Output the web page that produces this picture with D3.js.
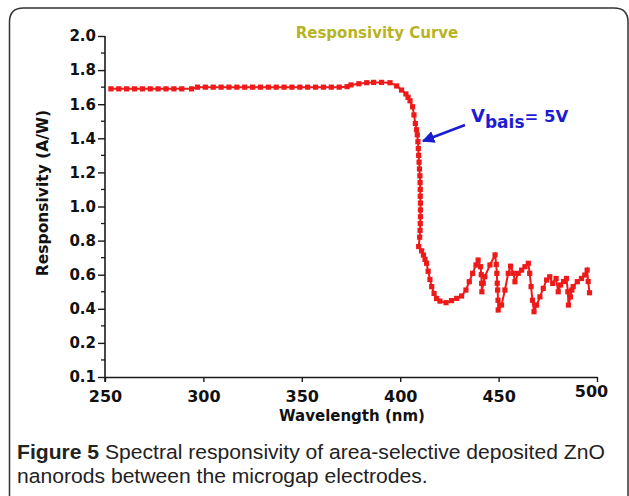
<!DOCTYPE html>
<html><head><meta charset="utf-8">
<script src="https://cdn.jsdelivr.net/npm/d3@7"></script>
<style>html,body{margin:0;padding:0;background:#fff;}svg{display:block;}</style>
</head><body>
<script>
// ---- data ----
const wavelengths = [253,257,261,265,269,273,277,281,285,289,294,
 297,301,305,309,313,317,321,325,329,333,337,341,345,349,353,357,361,365,369,373,
 375,379,383,386.5,390.5,394.8,398.2,400.7,402.9,404,405,406.3,407,407.7,408.3,408.7,
 409,409.2,409.4,409.6,409.8,410,410.1,410.2,410.2,410.3,410.3,410.3,410.2,410.1,409.9,409.4,
 410.9,411.8,412.6,413.4,414.2,415.1,416,417.2,418.5,420.2,423.3,426.1,428.7,431.2,433.4,
 435.1,436.8,438.5,439.6,440.8,441.2,441.4,441.5,442.2,443,445.6,448.2,448.8,449.1,449.3,
 449.5,449.7,449.8,451.5,453.2,454.9,456.1,457.5,458.3,460,461.7,463.4,465.1,465.8,466.5,
 467.2,468,469.3,471,472.7,474.4,476,477.5,479.2,480.3,481.5,483,484.5,485.2,485.5,486.5,
 487.2,487.9,490,492.1,493.8,495,495.5,496.2];
const responsivity = [1.69,1.69,1.69,1.69,1.69,1.69,1.69,1.69,1.69,1.69,1.69,
 1.70,1.70,1.70,1.70,1.70,1.70,1.70,1.70,1.70,1.70,1.70,1.70,1.70,1.70,1.70,1.70,1.70,1.70,1.70,1.703,
 1.713,1.72,1.726,1.728,1.728,1.726,1.707,1.683,1.66,1.64,1.62,1.585,1.537,1.487,1.45,1.42,
 1.38,1.34,1.30,1.26,1.22,1.18,1.14,1.10,1.06,1.02,0.98,0.94,0.90,0.86,0.82,0.765,
 0.74,0.715,0.69,0.667,0.62,0.572,0.53,0.49,0.46,0.445,0.436,0.448,0.461,0.475,0.51,
 0.559,0.608,0.657,0.686,0.647,0.60,0.549,0.50,0.55,0.588,0.657,0.716,0.66,0.608,0.55,
 0.51,0.45,0.393,0.422,0.51,0.608,0.65,0.608,0.559,0.608,0.627,0.647,0.667,0.608,0.53,
 0.45,0.383,0.422,0.47,0.52,0.569,0.588,0.549,0.578,0.50,0.54,0.56,0.578,0.50,0.422,0.47,
 0.51,0.53,0.559,0.578,0.598,0.627,0.56,0.494];
const xTicks = [250,300,350,400,450,500];
const xTickLabels = ["250","300","350","400","450","500"];
const yTicks = [0,0.2,0.4,0.6,0.8,1.0,1.2,1.4,1.6,1.8,2.0];
const yTickLabels = ["0.1","0.2","0.4","0.6","0.8","1.0","1.2","1.4","1.6","1.8","2.0"];
const yMinorTicks = [0.1,0.3,0.5,0.7,0.9,1.1,1.3,1.5,1.7,1.9];
const titleText = "Responsivity Curve";
const xTitle = "Wavelength (nm)";
const yTitle = "Responsivity (A/W)";
const captionBold = "Figure 5";
const captionLine1 = " Spectral responsivity of area-selective deposited ZnO";
const captionLine2 = "nanorods between the microgap electrodes.";

const W = 629, H = 496;
const svg = d3.select("body").append("svg").attr("width", W).attr("height", H);

// border
svg.append("path")
  .attr("d", "M9.5,500 L9.5,22 Q9.5,8 23.5,8 L614,8 Q628,8 628,22 L628,500")
  .attr("fill","none").attr("stroke","#333").attr("stroke-width",1.5);

const x = d3.scaleLinear().domain([250,500]).range([105,597]);
const y = d3.scaleLinear().domain([0,2]).range([377,36]);
const axisColor = "#1a1a1a";
const tickFont = "'DejaVu Sans', sans-serif";

// y axis
const yAxis = d3.axisLeft(y).tickValues(yTicks).tickSize(7).tickSizeOuter(0)
  .tickFormat((d,i)=>yTickLabels[i]);
const gy = svg.append("g").attr("transform",`translate(${x(250)},0)`).call(yAxis);
gy.select(".domain").attr("stroke",axisColor).attr("stroke-width",1.6).attr("d",`M0,${y(2)}V${y(0)+5}`);
gy.selectAll(".tick line").attr("stroke",axisColor).attr("stroke-width",1.4);
gy.selectAll(".tick text").attr("font-family",tickFont).attr("font-weight","bold")
  .attr("font-size",15).attr("fill","#111").attr("x",-9);
gy.selectAll(".minor").data(yMinorTicks).enter().append("line")
  .attr("x1",-4).attr("x2",0).attr("y1",d=>y(d)).attr("y2",d=>y(d))
  .attr("stroke",axisColor).attr("stroke-width",1.3);

// x axis
const xAxis = d3.axisBottom(x).tickValues(xTicks).tickSize(5).tickSizeOuter(0)
  .tickFormat((d,i)=>xTickLabels[i]);
const gx = svg.append("g").attr("transform",`translate(0,${y(0)})`).call(xAxis);
gx.select(".domain").attr("stroke",axisColor).attr("stroke-width",1.6);
gx.selectAll(".tick line").attr("stroke",axisColor).attr("stroke-width",1.4);
gx.selectAll(".tick text").attr("font-family",tickFont).attr("font-weight","bold")
  .attr("font-size",16).attr("fill","#111")
  .attr("y",(d)=> d===500 ? 9 : 14)
  .attr("dx",(d)=> d===500 ? -6 : 0).attr("dy","0.71em");

// axis titles
svg.append("text").attr("x",352).attr("y",421).attr("text-anchor","middle")
  .attr("font-family",tickFont).attr("font-weight","bold").attr("font-size",15)
  .attr("fill","#111").text(xTitle);
svg.append("text").attr("transform","translate(48,193) rotate(-90)").attr("text-anchor","middle")
  .attr("font-family",tickFont).attr("font-weight","bold").attr("font-size",15.5)
  .attr("fill","#111").text(yTitle);

// title
svg.append("text").attr("x",377).attr("y",38).attr("text-anchor","middle")
  .attr("font-family",tickFont).attr("font-weight","bold").attr("font-size",15)
  .attr("fill","#b8b325").text(titleText);

// data
const pts = wavelengths.map((w,i)=>({w, r: responsivity[i]}));
const red = "#ee1a1a";
svg.append("path").datum(pts)
  .attr("d", d3.line().x(d=>x(d.w)).y(d=>y(d.r)))
  .attr("fill","none").attr("stroke",red).attr("stroke-width",2);
svg.selectAll(".pt").data(pts).enter().append("rect")
  .attr("x",d=>x(d.w)-2.6).attr("y",d=>y(d.r)-2.6).attr("width",5.2).attr("height",5.2)
  .attr("fill",red);

// annotation
const blue = "#1c1cd0";
const defs = svg.append("defs");
defs.append("marker").attr("id","ah").attr("viewBox","0 0 10 10").attr("refX",9).attr("refY",5)
  .attr("markerWidth",5).attr("markerHeight",5).attr("orient","auto-start-reverse")
  .attr("markerUnits","strokeWidth")
  .append("path").attr("d","M0,0 L10,5 L0,10 z").attr("fill",blue);
svg.append("line").attr("x1",465).attr("y1",125).attr("x2",423).attr("y2",141)
  .attr("stroke",blue).attr("stroke-width",2.5).attr("marker-end","url(#ah)");
const ann = svg.append("text").attr("x",471).attr("y",122)
  .attr("font-family",tickFont).attr("font-weight","bold").attr("fill",blue);
ann.append("tspan").attr("font-size",18).text("V");
ann.append("tspan").attr("font-size",17).attr("dy",6).text("bais");
ann.append("tspan").attr("font-size",16.5).attr("dy",-6).text("= 5V");

// caption (size fitted so line 1 spans the reference width)
const capFont = "'Liberation Sans', Arial, sans-serif";
const c1 = svg.append("text").attr("x",17).attr("y",459).attr("font-family",capFont)
  .attr("font-size",20).attr("fill","#222");
c1.append("tspan").attr("font-weight","bold").text(captionBold);
c1.append("tspan").text(captionLine1);
const c2 = svg.append("text").attr("x",17).attr("y",483).attr("font-family",capFont)
  .attr("font-size",20).attr("fill","#222").text(captionLine2);
const len = c1.node().getComputedTextLength();
const fs = Math.min(22, 20 * 588 / len);
c1.attr("font-size", fs); c2.attr("font-size", fs);
</script>
</body></html>
